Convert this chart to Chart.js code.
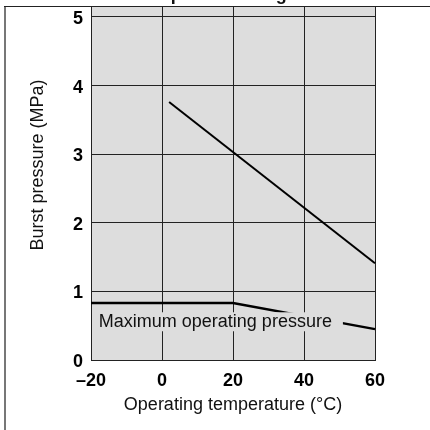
<!DOCTYPE html>
<html>
<head>
<meta charset="utf-8">
<script src="https://cdn.jsdelivr.net/npm/chart.js@4/dist/chart.umd.min.js"></script>
<style>
  body { margin: 0; background: #fff; }
</style>
</head>
<body>
<canvas id="chart" width="430" height="430"></canvas>
<script>
// values
const xTicks = [-20, 0, 20, 40, 60];
const yTicks = [0, 1, 2, 3, 4, 5];
const burstTemps = [2, 60];
const burstValues = [3.76, 1.41];
const maxOpTemps = [-20, 20, 60];
const maxOpValues = [0.83, 0.83, 0.45];

const FONT = "'Liberation Sans', Arial, Helvetica, sans-serif";

function toPoints(xs, ys) {
  return xs.map(function (x, i) { return { x: x, y: ys[i] }; });
}

const framePlugin = {
  id: 'frame',
  beforeDraw: function (chart) {
    const ctx = chart.ctx;
    const a = chart.chartArea;
    ctx.save();
    ctx.fillStyle = '#fff';
    ctx.fillRect(0, 0, chart.width, chart.height);
    ctx.fillStyle = '#dddddd';
    ctx.fillRect(a.left, a.top, a.right - a.left, a.bottom - a.top);
    ctx.restore();
  },
  afterDatasetsDraw: function (chart) {
    const ctx = chart.ctx;
    const xs = chart.scales.x;
    const ys = chart.scales.y;
    // label sitting over the lower curve
    const lx = xs.getPixelForValue(-17.8);
    const ly = ys.getPixelForValue(0.55);
    ctx.save();
    ctx.font = '18px ' + FONT;
    const text = 'Maximum operating pressure';
    const w = ctx.measureText(text).width;
    ctx.fillStyle = '#dddddd';
    ctx.fillRect(lx - 3, ly - 10, w + 14, 19);
    ctx.fillStyle = '#111';
    ctx.textBaseline = 'middle';
    ctx.fillText(text, lx, ly);
    ctx.restore();
  },
  afterDraw: function (chart) {
    const ctx = chart.ctx;
    const a = chart.chartArea;
    ctx.save();
    // outer frame (left and top)
    ctx.strokeStyle = '#777';
    ctx.lineWidth = 2;
    ctx.beginPath();
    ctx.moveTo(5, a.top);
    ctx.lineTo(5, chart.height);
    ctx.stroke();
    ctx.strokeStyle = '#222';
    ctx.lineWidth = 1;
    ctx.beginPath();
    ctx.moveTo(4, a.top + 0.5);
    ctx.lineTo(chart.width, a.top + 0.5);
    ctx.stroke();
    // clipped heading above the frame
    ctx.fillStyle = '#111';
    ctx.font = 'bold 18px ' + FONT;
    ctx.textBaseline = 'alphabetic';
    ctx.fillText('Temperature range', 135, 0);
    ctx.restore();

    // y axis title
    ctx.save();
    ctx.translate(38, (a.top + a.bottom) / 2 - 18);
    ctx.rotate(-Math.PI / 2);
    ctx.font = '18px ' + FONT;
    ctx.fillStyle = '#111';
    ctx.textAlign = 'center';
    ctx.textBaseline = 'middle';
    ctx.fillText('Burst pressure (MPa)', 0, 0);
    ctx.restore();
  }
};

const ctx = document.getElementById('chart');
const myChart = new Chart(ctx, {
  type: 'line',
  data: {
    datasets: [
      {
        label: 'Burst pressure',
        data: toPoints(burstTemps, burstValues),
        borderColor: '#000',
        borderWidth: 2,
        pointRadius: 0,
        tension: 0,
        clip: false
      },
      {
        label: 'Maximum operating pressure',
        data: toPoints(maxOpTemps, maxOpValues),
        borderColor: '#000',
        borderWidth: 2.5,
        pointRadius: 0,
        tension: 0,
        clip: false
      }
    ]
  },
  options: {
    responsive: false,
    animation: false,
    layout: { padding: { top: 6, right: 55, left: 0, bottom: 0 } },
    plugins: {
      legend: { display: false },
      tooltip: { enabled: false }
    },
    scales: {
      x: {
        type: 'linear',
        min: xTicks[0],
        max: xTicks[xTicks.length - 1],
        afterBuildTicks: function (scale) {
          scale.ticks = xTicks.map(function (v) { return { value: v }; });
        },
        afterFit: function (scale) {
          scale.height = 70;
          scale.paddingLeft = 0;
          scale.paddingRight = 0;
        },
        grid: { color: '#222', lineWidth: 1, drawTicks: false },
        border: { color: '#222', width: 1 },
        ticks: {
          padding: 10,
          maxRotation: 0,
          color: '#000',
          font: { family: FONT, size: 18, weight: 'bold' },
          callback: function (v) { return String(v).replace('-', '\u2013'); }
        },
        title: {
          display: true,
          text: 'Operating temperature (°C)',
          color: '#111',
          font: { family: FONT, size: 18 },
          padding: { top: 0, bottom: 14 }
        }
      },
      y: {
        min: 0,
        max: 5.16,
        afterBuildTicks: function (scale) {
          scale.ticks = yTicks.map(function (v) { return { value: v }; });
        },
        afterFit: function (scale) {
          scale.width = 91;
          scale.paddingTop = 0;
          scale.paddingBottom = 0;
        },
        grid: { color: '#222', lineWidth: 1, drawTicks: false },
        border: { color: '#222', width: 1 },
        ticks: {
          padding: 8,
          labelOffset: 2,
          color: '#000',
          font: { family: FONT, size: 18, weight: 'bold' }
        }
      }
    }
  },
  plugins: [framePlugin]
});
</script>
</body>
</html>
